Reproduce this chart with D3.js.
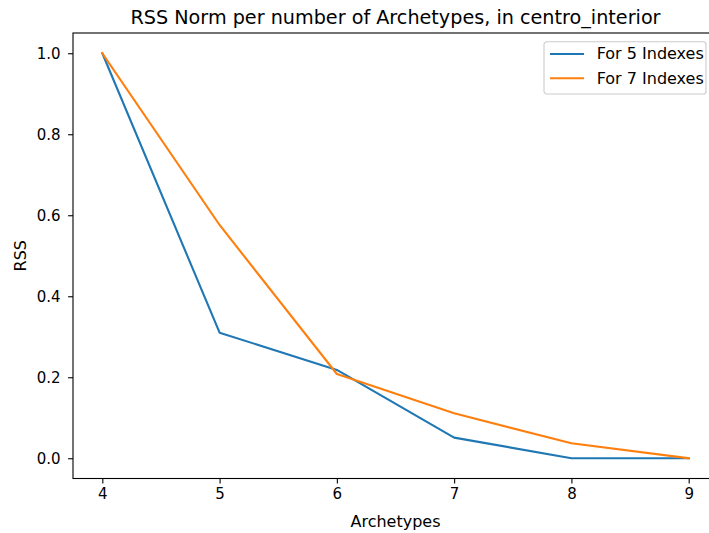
<!DOCTYPE html>
<html>
<head>
<meta charset="utf-8">
<script src="https://cdn.jsdelivr.net/npm/d3@7"></script>
<style>
  body { margin: 0; background: #fff; }
  text { font-family: "DejaVu Sans", sans-serif; fill: #000; }
</style>
</head>
<body>
<div id="lineplot"></div>
<script>
// data
var archetypes = [4, 5, 6, 7, 8, 9];
var rss5 = [1.0, 0.310, 0.218, 0.051, 0.0, 0.0];
var rss7 = [1.0, 0.576, 0.208, 0.111, 0.037, 0.0];
var xTicks = [4, 5, 6, 7, 8, 9];
var yTicks = [0.0, 0.2, 0.4, 0.6, 0.8, 1.0];
var seriesNames = ["For 5 Indexes", "For 7 Indexes"];
var colors = ["#1f77b4", "#ff7f0e"];

// set the dimensions and margins of the graph
var margin = {top: 33, right: 0, bottom: 54.5, left: 73};
var width = 645;
var height = 445.5;

var svg = d3.select("#lineplot").append("svg")
    .attr("width", 709)
    .attr("height", 533)
  .append("g")
    .attr("transform", "translate(" + margin.left + "," + margin.top + ")");

var x = d3.scaleLinear().domain([3.75, 9.25]).range([0, width]);
var y = d3.scaleLinear().domain([-0.05, 1.05]).range([height, 0]);

var line = d3.line()
    .x(function(d) { return x(d[0]); })
    .y(function(d) { return y(d[1]); });

[rss5, rss7].forEach(function(vals, i) {
  svg.append("path")
      .datum(archetypes.map(function(a, j) { return [a, vals[j]]; }))
      .attr("fill", "none")
      .attr("stroke", colors[i])
      .attr("stroke-width", 2.1)
      .attr("stroke-linejoin", "round")
      .attr("stroke-linecap", "square")
      .attr("d", line);
});

// x axis
var xAxis = svg.append("g")
    .attr("transform", "translate(0," + height + ")")
    .call(d3.axisBottom(x).tickValues(xTicks).tickFormat(d3.format("d"))
      .tickSizeInner(4.9).tickSizeOuter(0).tickPadding(4.9));

// y axis
var yAxis = svg.append("g")
    .call(d3.axisLeft(y).tickValues(yTicks).tickFormat(d3.format(".1f"))
      .tickSizeInner(4.9).tickSizeOuter(0).tickPadding(7.5));

[xAxis, yAxis].forEach(function(a) {
  a.select(".domain").remove();
  a.selectAll("line").attr("stroke", "#000").attr("stroke-width", 1.1);
  a.selectAll("text").style("font-family", "DejaVu Sans").style("font-size", "15px").attr("fill", "#000");
});

// spines
svg.append("rect")
    .attr("width", width)
    .attr("height", height)
    .attr("fill", "none")
    .attr("stroke", "#000")
    .attr("stroke-width", 1.1);

// title
svg.append("text")
    .attr("x", width / 2)
    .attr("y", -9)
    .style("text-anchor", "middle")
    .style("font-size", "19.2px")
    .text("RSS Norm per number of Archetypes, in centro_interior");

// x label
svg.append("text")
    .attr("x", width / 2)
    .attr("y", height + 48)
    .style("text-anchor", "middle")
    .style("font-size", "16px")
    .text("Archetypes");

// y label
svg.append("text")
    .attr("transform", "rotate(-90)")
    .attr("x", -height / 2)
    .attr("y", -47)
    .style("text-anchor", "middle")
    .style("font-size", "16px")
    .text("RSS");

// legend
var legend = svg.append("g")
    .attr("transform", "translate(" + (544 - margin.left) + "," + (41.7 - margin.top) + ")");

legend.append("rect")
    .attr("width", 162)
    .attr("height", 52.3)
    .attr("rx", 2.8)
    .attr("fill", "#fff")
    .attr("fill-opacity", 0.8)
    .attr("stroke", "#cccccc")
    .attr("stroke-width", 1.1);

seriesNames.forEach(function(name, i) {
  var ly = 12.3 + i * 24.3;
  legend.append("line")
      .attr("x1", 6).attr("x2", 40)
      .attr("y1", ly).attr("y2", ly)
      .attr("stroke", colors[i])
      .attr("stroke-width", 2.1);
  legend.append("text")
      .attr("x", 52.7)
      .attr("y", ly + 5.5)
      .style("font-size", "16px")
      .text(name);
});
</script>
</body>
</html>
